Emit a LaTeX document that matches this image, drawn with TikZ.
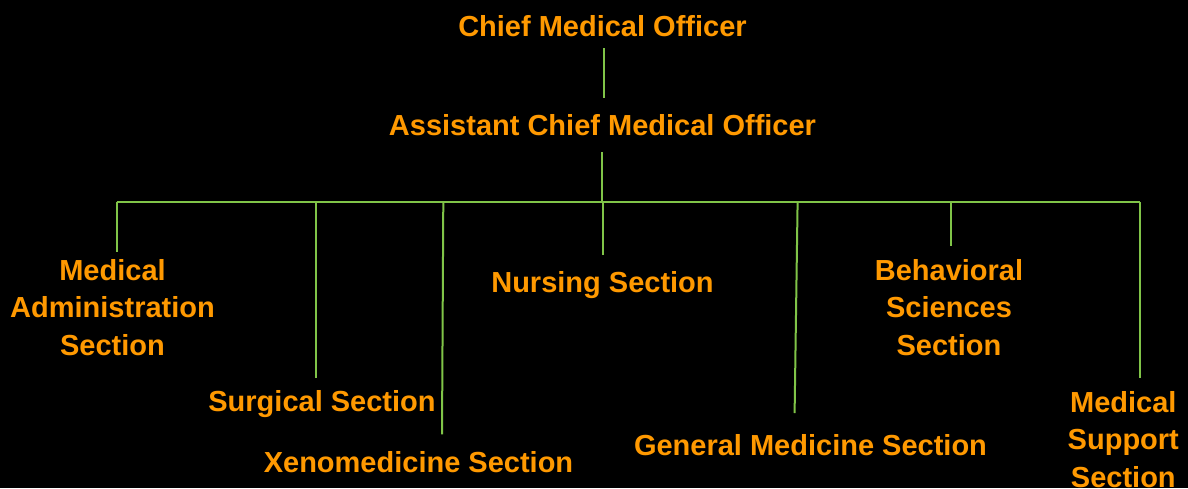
\documentclass[tikz,border=0pt]{standalone}
\usepackage{fontspec}
\setmainfont{Liberation Sans}
\usetikzlibrary{calc}
\definecolor{txtorange}{RGB}{255,153,0}
\definecolor{linkgreen}{RGB}{128,196,72}
\begin{document}
\begin{tikzpicture}[x=1pt,y=-1pt,
  lbl/.style={text=txtorange,font=\fontsize{29}{37.5}\selectfont\bfseries,inner sep=0pt,align=center},
  link/.style={draw=linkgreen,line width=2pt}]
\fill[black] (0,0) rectangle (1188,488);
\useasboundingbox (0,0) rectangle (1188,488);
% nodes
\node[lbl,anchor=base] (cmo) at (602.5,36) {Chief Medical Officer};
\node[lbl,anchor=base] (acmo) at (602.5,135) {Assistant Chief Medical Officer};
\node[lbl,anchor=north] (admin) at (112.5,259.2) {Medical\\Administration\\Section};
\node[lbl,anchor=base] (surg) at (322,411.7) {Surgical Section};
\node[lbl,anchor=base] (xeno) at (418.5,472.7) {Xenomedicine Section};
\node[lbl,anchor=base] (nurs) at (602.5,292.5) {Nursing Section};
\node[lbl,anchor=base] (genmed) at (810.5,455) {General Medicine Section};
\node[lbl,anchor=north] (behav) at (949,259.2) {Behavioral\\Sciences\\Section};
\node[lbl,anchor=north] (msupp) at (1123.3,390.9) {Medical\\Support\\Section};
% bar junctions
\coordinate (j0) at (602.3,202);
\coordinate (j1) at (116.7,202);
\coordinate (j2) at (316,202);
\coordinate (j3) at (443.3,202);
\coordinate (j4) at (602.6,202);
\coordinate (j5) at (797.6,202);
\coordinate (j6) at (950.6,202);
\coordinate (j7) at (1140.3,202);
% connectors
\draw[link] ($(cmo.south)+(1.8,12)$) -- ($(acmo.north)+(1.8,-16)$);
\draw[link] ($(j0 |- acmo.south)+(0,17)$) -- (j0);
\draw[link] (j1) -- (j7);
\draw[link] (j1) -- ($(j1 |- admin.north)+(0,-7.5)$);
\draw[link] (j2) -- ($(j2 |- surg.base)+(0,-34)$);
\draw[link] (j3) -- ($(j3 |- xeno.base)+(-1.3,-38.4)$);
\draw[link] (j4) -- ($(j4 |- nurs.base)+(0,-37.5)$);
\draw[link] (j5) -- ($(j5 |- genmed.base)+(-3,-42)$);
\draw[link] (j6) -- ($(j6 |- behav.north)+(0,-13.5)$);
\draw[link] (j7) -- ($(j7 |- msupp.north)+(0,-13.2)$);
\end{tikzpicture}
\end{document}
